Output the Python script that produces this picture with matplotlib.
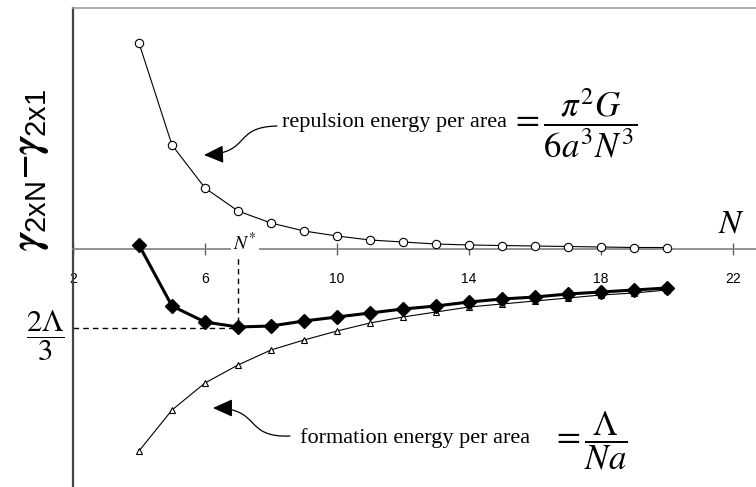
import numpy as np
import matplotlib
matplotlib.use("Agg")
import matplotlib.pyplot as plt
from matplotlib.path import Path
from matplotlib.patches import FancyArrowPatch

plt.rcParams['font.family'] = ['Liberation Sans', 'DejaVu Sans']
plt.rcParams['mathtext.fontset'] = 'custom'
plt.rcParams['mathtext.rm'] = 'Liberation Sans'
plt.rcParams['mathtext.it'] = 'STIXGeneral:italic:bold'

# data (y in arbitrary energy units)
N = [4, 5, 6, 7, 8, 9, 10, 11, 12, 13, 14, 15, 16, 17, 18, 19, 20]
repulsion = [206, 104, 61, 38, 26, 18, 13, 9, 7, 5, 4, 3.5, 3, 2.5, 2, 1.5, 1.5]
formation = [-202, -161, -134, -116, -101, -91, -82, -74, -68, -63, -58, -55, -52, -49, -46, -44, -41]
total = [4, -57, -73, -78, -77, -72, -68, -64, -60, -57, -53, -50, -48, -45, -43, -41, -39]
xticks = [2, 6, 10, 14, 18, 22]
n_star = 7
e_min = -79

W, H = 756, 487
fig = plt.figure(figsize=(W / 100, H / 100), dpi=100)
ax = fig.add_axes([73 / W, 0, (W - 73) / W, (H - 8) / H])
ax.set_xlim(2, 2 + (W - 73) / 33)
ax.set_ylim(-238, 241)


def px(x, y):
    # pixel position of the picture -> data coords
    return (x - 73) / 33 + 2, 249 - y


# spines
ax.spines['right'].set_visible(False)
ax.spines['top'].set_color('#a0a0a0')
ax.spines['top'].set_linewidth(1.2)
ax.spines['left'].set_color('#444444')
ax.spines['left'].set_linewidth(1.6)
ax.spines['bottom'].set_position(('data', 0))
ax.spines['bottom'].set_color('#808080')
ax.spines['bottom'].set_linewidth(1.2)
ax.set_yticks([])
ax.set_xticks(xticks)
ax.tick_params(axis='x', direction='inout', length=9, width=1, color='#606060',
               labelsize=10, pad=12)

# curves
ax.plot(N, repulsion, '-o', color='black', lw=0.8, ms=6, mfc='white', mew=0.8, zorder=3)
ax.plot(N, formation, '-^', color='black', lw=0.8, ms=5, mfc='white', mew=0.8, zorder=3)
ax.plot(N, total, '-D', color='black', lw=2.2, ms=7, mfc='black', zorder=4)

# N* guide lines
ax.plot([n_star, n_star], [0, e_min + 1], '--', color='black', lw=1, dashes=(4, 3))
ax.plot([2, n_star], [e_min, e_min], '--', color='black', lw=1, dashes=(4, 3))

ax.text(*px(245, 243), r'$N^{*}$', math_fontfamily='stix', fontsize=14,
        ha='center', va='center', zorder=5,
        bbox=dict(facecolor='white', edgecolor='none', pad=1.5))
ax.text(*px(731, 224), r'$N$', math_fontfamily='stix', fontsize=24,
        ha='center', va='center')

# labels
fig.text(31 / W, 1 - 170 / H,
         r'$\gamma_{\mathregular{2xN}}\mathregular{-}\gamma_{\mathregular{2x1}}$',
         fontsize=30, rotation=90, ha='center', va='center')
fig.text(45 / W, 1 - 336 / H, r'$\dfrac{2\Lambda}{3}$', math_fontfamily='stix',
         fontsize=22, ha='center', va='center')

serif = ['Liberation Serif', 'DejaVu Serif']
ax.text(*px(282, 122), 'repulsion energy per area', family=serif, fontsize=16,
        ha='left', va='center')
ax.text(*px(510, 123), r'$=\dfrac{\pi^2G}{6a^3N^3}$', math_fontfamily='stix',
        fontsize=25, ha='left', va='center')
ax.text(*px(300, 438), 'formation energy per area', family=serif, fontsize=16,
        ha='left', va='center')
ax.text(*px(551, 441), r'$=\dfrac{\Lambda}{Na}$', math_fontfamily='stix',
        fontsize=25, ha='left', va='center')

# curved arrows
codes = [Path.MOVETO, Path.CURVE4, Path.CURVE4, Path.CURVE4]
arrows = [
    [px(277, 126), px(232, 127), px(252, 153), px(204, 155)],
    [px(290, 436), px(243, 438), px(262, 408), px(213, 408)],
]
for verts in arrows:
    arr = FancyArrowPatch(path=Path(verts, codes),
                          arrowstyle='-|>,head_length=1.1,head_width=0.5',
                          mutation_scale=11, lw=0.9, color='black')
    ax.add_patch(arr)

fig.savefig('out.png', dpi=100)
